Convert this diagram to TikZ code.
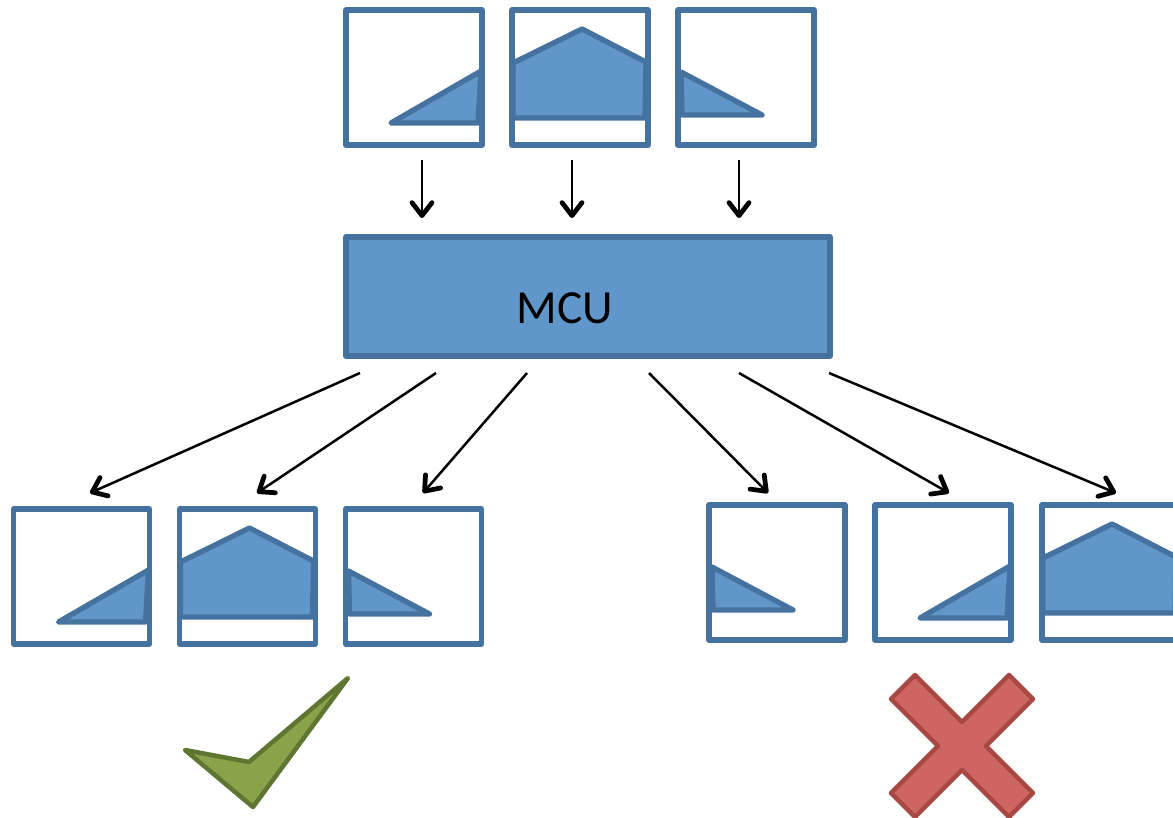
\documentclass[tikz,border=0pt]{standalone}
\usepackage{fontspec}
\setmainfont{Carlito}
\usetikzlibrary{arrows.meta}
\definecolor{boxline}{HTML}{4672A0}
\definecolor{boxfill}{HTML}{6096C9}
\definecolor{okfill}{HTML}{8AA34A}
\definecolor{okline}{HTML}{5F7532}
\definecolor{nofill}{HTML}{CD6560}
\definecolor{noline}{HTML}{A84845}
\begin{document}
\begin{tikzpicture}[x=1pt,y=-1pt,inner sep=0pt,outer sep=0pt,line join=round,
frame/.style={draw=boxline,line width=5.3pt,minimum width=136pt,minimum height=135pt},
mcubox/.style={draw=boxline,fill=boxfill,line width=5.3pt,minimum width=484pt,minimum height=119pt},
wave/.style={draw=boxline,fill=boxfill,line width=5.3pt},
conn/.style={line width=2.5pt,-{Straight Barb[length=13pt,width=20pt,line width=0pt 1.9,round]}},
rampup/.pic={\draw[wave] (45,113) -- (135,61) -- (132,113) -- cycle;},
rampdown/.pic={\draw[wave] (3,62) -- (84,105) -- (4,105) -- cycle;},
house/.pic={\draw[wave] (1,53) -- (70,19) -- (134,52) -- (133,108) -- (1,108) -- cycle;}]
\useasboundingbox (0,0) rectangle (1173,818);
\clip (0,0) rectangle (1173,818);
% input frames
\draw (414,77.5) node[frame] (t1) {};
\draw (580,77.5) node[frame] (t2) {};
\draw (746,77.5) node[frame] (t3) {};
\pic at (t1.north west) {rampup};
\pic at (t2.north west) {house};
\pic at (t3.north west) {rampdown};
% MCU
\draw (588,296.5) node[mcubox] (mcu) {};
\draw (565,308) node[font=\fontsize{47.5}{50}\selectfont] (mculabel) {MCU};
\draw[conn] ([xshift=8pt,yshift=-15pt]t1.south) -- ([xshift=-166pt,yshift=19pt]mcu.north);
\draw[conn] ([xshift=-8pt,yshift=-15pt]t2.south) -- ([xshift=-16pt,yshift=19pt]mcu.north);
\draw[conn] ([xshift=-7pt,yshift=-15pt]t3.south) -- ([xshift=151pt,yshift=19pt]mcu.north);
% output frames, good order
\draw (81.5,576.5) node[frame] (fa) {};
\draw (247.5,576.5) node[frame] (fb) {};
\draw (413.5,576.5) node[frame] (fc) {};
\pic at (fa.north west) {rampup};
\pic at (fb.north west) {house};
\pic at (fc.north west) {rampdown};
% output frames, wrong order
\draw (777,572.5) node[frame] (fd) {};
\draw (943,572.5) node[frame] (fe) {};
\draw (1110,572.5) node[frame] (ff) {};
\pic at (fd.north west) {rampdown};
\pic at (fe.north west) {rampup};
\pic at (ff.north west) {house};
\draw[conn] ([xshift=-228pt,yshift=-17pt]mcu.south) -- ([xshift=8.5pt,yshift=16pt]fa.north);
\draw[conn] ([xshift=-152pt,yshift=-17pt]mcu.south) -- ([xshift=9.5pt,yshift=16pt]fb.north);
\draw[conn] ([xshift=-61pt,yshift=-17pt]mcu.south) -- ([xshift=9.5pt,yshift=16pt]fc.north);
\draw[conn] ([xshift=61pt,yshift=-17pt]mcu.south) -- ([xshift=-9pt,yshift=12pt]fd.north);
\draw[conn] ([xshift=151pt,yshift=-17pt]mcu.south) -- ([xshift=6pt,yshift=12pt]fe.north);
\draw[conn] ([xshift=241pt,yshift=-17pt]mcu.south) -- ([xshift=6pt,yshift=12pt]ff.north);
% tick and cross
\draw[draw=okline,fill=okfill,line width=4.5pt] (185,750) -- (249,762) -- (348,678) -- (253,807) -- cycle;
\draw[draw=noline,fill=nofill,line width=4.5pt,shift={(962,746)}] (0,-24) -- (47,-71) -- (71,-47) -- (24,0) -- (71,47) -- (47,71) -- (0,24) -- (-47,71) -- (-71,47) -- (-24,0) -- (-71,-47) -- (-47,-71) -- cycle;
\end{tikzpicture}
\end{document}
